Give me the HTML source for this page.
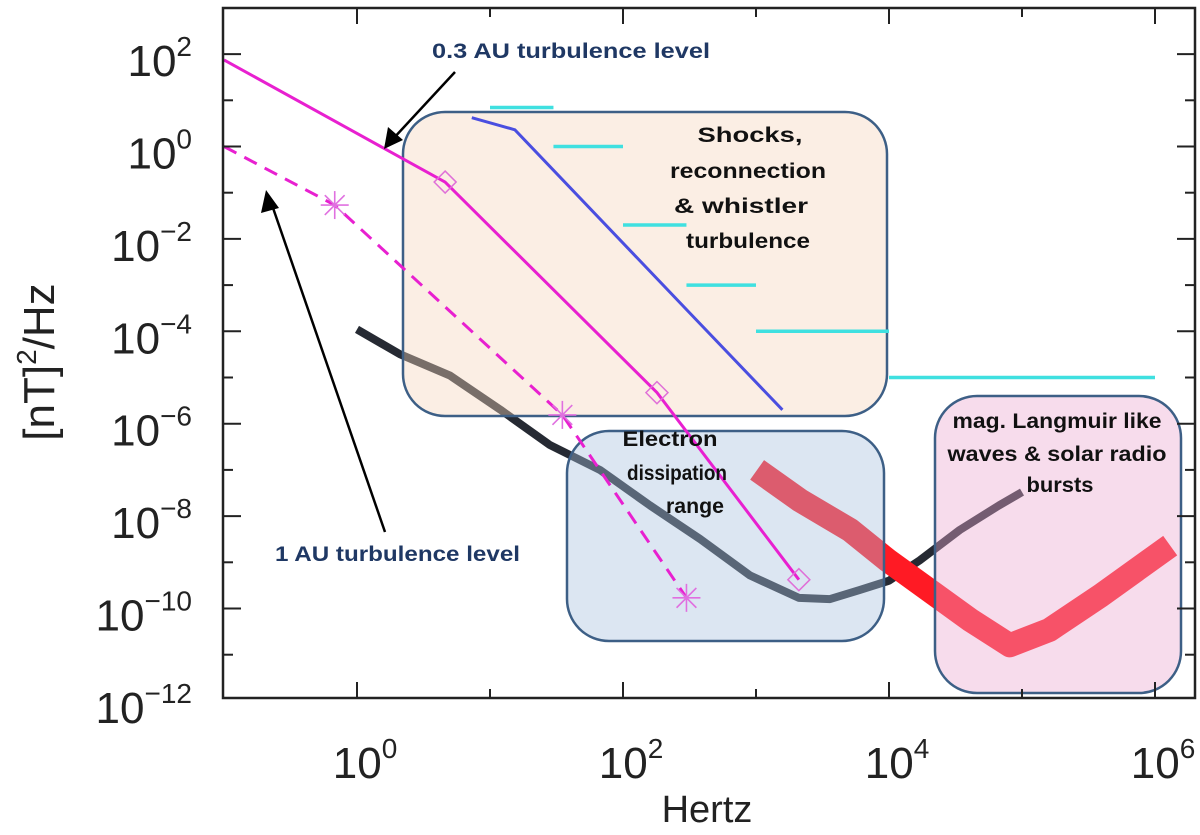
<!DOCTYPE html>
<html><head><meta charset="utf-8"><style>
html,body{margin:0;padding:0;background:#fff;}
svg{display:block;font-family:"Liberation Sans",sans-serif;}
</style></head><body>
<svg id="chart" width="1200" height="835" viewBox="0 0 1200 835">
<g id="curves"></g>
<g id="boxes"></g>
<g id="overlay"></g>
<g id="axes"></g>
</svg>
<script>
// ---- data ----
const solidF = [0.1, 4.6, 180, 2100];
const solidP = [75, 0.17, 4.7e-6, 4.2e-10];
const dashF = [0.1, 0.68, 35, 300];
const dashP = [1.0, 0.054, 1.55e-6, 1.7e-10];
const blueF = [7.3, 15.4, 347, 1580];
const blueP = [4.2, 2.3, 1.9e-4, 2e-6];
const cyanStart = [10, 30, 100, 300, 1000, 1e4];
const cyanEnd = [30, 100, 300, 1000, 1e4, 1e6];
const cyanP = [7, 1, 0.02, 1e-3, 1e-4, 1e-5];
const blackF = [1, 2.1, 5, 12, 28, 67, 160, 380, 900, 2100, 3600, 6000, 1e4, 1.7e4, 3.4e4, 6.7e4, 1e5];
const blackP = [1.1e-4, 3.2e-5, 1.1e-5, 2e-6, 3.5e-7, 1e-7, 1.7e-8, 3.2e-9, 5.2e-10, 1.7e-10, 1.6e-10, 2.5e-10, 4e-10, 1.1e-9, 5e-9, 1.7e-8, 3.3e-8];
const redF = [1020, 2140, 5100, 9800, 2.0e4, 4.1e4, 8.1e4, 1.6e5, 3.9e5, 1.3e6];
const redP = [1e-7, 2.2e-8, 5e-9, 1.1e-9, 2.5e-10, 5.6e-11, 1.6e-11, 3.4e-11, 1.9e-10, 2.3e-9];
const xTickExp = [0, 2, 4, 6];
const yTickExp = [2, 0, -2, -4, -6, -8, -10, -12];

// ---- axes ----
const X0 = 223, X1 = 1195, Y0 = 8, Y1 = 698;
function xs(f){ return 357 + 133 * Math.log10(f); }
function ys(p){ return 146.5 - 46.2 * Math.log10(p); }
const NS = "http://www.w3.org/2000/svg";
function mk(tag, attrs, parent){ const e = document.createElementNS(NS, tag); for (const k in attrs) e.setAttribute(k, attrs[k]); parent.appendChild(e); return e; }
const curves = document.getElementById('curves');
const boxes = document.getElementById('boxes');
const overlay = document.getElementById('overlay');
const axes = document.getElementById('axes');
function pts(F, P){ return F.map((f, i) => xs(f).toFixed(1) + ',' + ys(P[i]).toFixed(1)).join(' '); }

// black spectrum
let e = mk('polyline', {points: pts(blackF, blackP), fill: 'none', stroke: '#262a33', 'stroke-width': 8, 'stroke-linejoin': 'round'}, curves);


// red spectrum
e = mk('polyline', {points: pts(redF, redP), fill: 'none', stroke: '#ff1a24', 'stroke-width': 24, 'stroke-linejoin': 'round'}, curves);



// boxes (semi-transparent overlay)
const boxDefs = [
  {x: 403, y: 112, w: 484, h: 304, fill: 'rgb(245,212,187)', name: 'shocks-region-box'},
  {x: 567, y: 431, w: 317, h: 210, fill: 'rgb(167,192,222)', name: 'dissipation-region-box'},
  {x: 935, y: 396, w: 246, h: 297, fill: 'rgb(235,167,207)', name: 'langmuir-region-box'}
];
boxDefs.forEach(b => {
  const r = mk('rect', {x: b.x, y: b.y, width: b.w, height: b.h, rx: 42, ry: 42, fill: b.fill, 'fill-opacity': 0.4, stroke: '#3d5f86', 'stroke-width': 2.5}, boxes);
  
  
});

// cyan segments
cyanP.forEach((p, i) => {
  const l = mk('line', {x1: xs(cyanStart[i]), x2: xs(cyanEnd[i]), y1: ys(p), y2: ys(p), stroke: '#3fe0e0', 'stroke-width': 3.5}, overlay);
  
  
});
// blue line
e = mk('polyline', {points: pts(blueF, blueP), fill: 'none', stroke: '#4a4ee0', 'stroke-width': 3}, overlay);


// magenta solid
e = mk('polyline', {points: pts(solidF, solidP), fill: 'none', stroke: '#e820d0', 'stroke-width': 3}, overlay);


for (let i = 1; i < solidF.length; i++) {
  const cx = xs(solidF[i]), cy = ys(solidP[i]);
  const d = mk('polygon', {points: `${cx},${cy-11} ${cx+11},${cy} ${cx},${cy+11} ${cx-11},${cy}`, fill: 'none', stroke: '#e070d8', 'stroke-width': 1.5}, overlay);
  
  
}
// magenta dashed
e = mk('polyline', {points: pts(dashF, dashP), fill: 'none', stroke: '#e820d0', 'stroke-width': 3, 'stroke-dasharray': '14,9'}, overlay);


for (let i = 1; i < dashF.length; i++) {
  const cx = xs(dashF[i]), cy = ys(dashP[i]);
  const g = mk('g', {stroke: '#e070e0', 'stroke-width': 1.6}, overlay);
  
  
  for (let a = 0; a < 4; a++) {
    const ang = a * Math.PI / 4;
    mk('line', {x1: cx - 14*Math.cos(ang), y1: cy - 14*Math.sin(ang), x2: cx + 14*Math.cos(ang), y2: cy + 14*Math.sin(ang)}, g);
  }
}

// frame and ticks
e = mk('rect', {x: X0, y: Y0, width: X1 - X0, height: Y1 - Y0, fill: 'none', stroke: '#222', 'stroke-width': 2.5}, axes);


for (let k = -1; k <= 6; k++) {
  const x = xs(Math.pow(10, k)); const L = (k % 2 === 0) ? 16 : 9;
  if (x > X0 + 2 && x < X1 - 2) {
    mk('line', {x1: x, x2: x, y1: Y1, y2: Y1 - L, stroke: '#222', 'stroke-width': 2}, axes);
    mk('line', {x1: x, x2: x, y1: Y0, y2: Y0 + L, stroke: '#222', 'stroke-width': 2}, axes);
  }
}
for (let k = -12; k <= 2; k++) {
  const y = ys(Math.pow(10, k)); const L = (k % 2 === 0) ? 18 : 10;
  if (y > Y0 + 2 && y < Y1 - 1) {
    mk('line', {x1: X0, x2: X0 + L, y1: y, y2: y, stroke: '#222', 'stroke-width': 2}, axes);
    mk('line', {x1: X1, x2: X1 - L, y1: y, y2: y, stroke: '#222', 'stroke-width': 2}, axes);
  }
}
xTickExp.forEach(k => {
  const t = mk('text', {x: xs(Math.pow(10, k)) + 8, y: 778, 'text-anchor': 'middle', 'font-size': 44, fill: '#222'}, axes);
  
  
  t.innerHTML = '10<tspan dy="-20" font-size="28">' + k + '</tspan>';
});
yTickExp.forEach(k => {
  const t = mk('text', {x: 192, y: ys(Math.pow(10, k)) + 22, 'text-anchor': 'end', 'font-size': 44, fill: '#222'}, axes);
  
  
  t.innerHTML = '10<tspan dy="-20" font-size="28">' + (k < 0 ? '\u2212' + (-k) : k) + '</tspan>';
});
</script>
<script>
const svg = document.getElementById('chart');
svg.insertAdjacentHTML('beforeend', `
<text x="707" y="822" text-anchor="middle" font-size="38" fill="#222">Hertz</text>
<text transform="translate(54,362) rotate(-90)" text-anchor="middle" font-size="44" fill="#222">[nT]<tspan dy="-18" font-size="28">2</tspan><tspan dy="18">/Hz</tspan></text>
<g font-weight="bold" font-size="21" fill="#1f3864">
<text x="432" y="58" textLength="278" lengthAdjust="spacingAndGlyphs">0.3 AU turbulence  level</text>
<text x="275" y="561" textLength="245" lengthAdjust="spacingAndGlyphs">1 AU turbulence  level</text>
</g>
<g>
<line x1="455" y1="72" x2="392" y2="140" stroke="#000" stroke-width="2.5"/><polygon points="384,149 388,127 403,140" fill="#000"/>
<line x1="385" y1="532" x2="272" y2="205" stroke="#000" stroke-width="2.5"/><polygon points="266,190 261,213 279,208" fill="#000"/>
</g>
<g font-weight="bold" font-size="21" fill="#111" text-anchor="middle" lengthAdjust="spacingAndGlyphs">
<text x="750" y="142" textLength="105" lengthAdjust="spacingAndGlyphs">Shocks,</text>
<text x="748" y="178" textLength="156" lengthAdjust="spacingAndGlyphs">reconnection</text>
<text x="741" y="213" textLength="134" lengthAdjust="spacingAndGlyphs">&amp; whistler</text>
<text x="748" y="248" textLength="124" lengthAdjust="spacingAndGlyphs">turbulence</text>
<text x="670" y="446" textLength="95" lengthAdjust="spacingAndGlyphs">Electron</text>
<text x="677" y="480" textLength="100" lengthAdjust="spacingAndGlyphs">dissipation</text>
<text x="695" y="513" textLength="58" lengthAdjust="spacingAndGlyphs">range</text>
<text x="1057" y="428" textLength="209" lengthAdjust="spacingAndGlyphs">mag. Langmuir like</text>
<text x="1057" y="461" textLength="219" lengthAdjust="spacingAndGlyphs">waves &amp; solar radio</text>
<text x="1060" y="492" textLength="67" lengthAdjust="spacingAndGlyphs">bursts</text>
</g>`);
</script>
</body></html>
